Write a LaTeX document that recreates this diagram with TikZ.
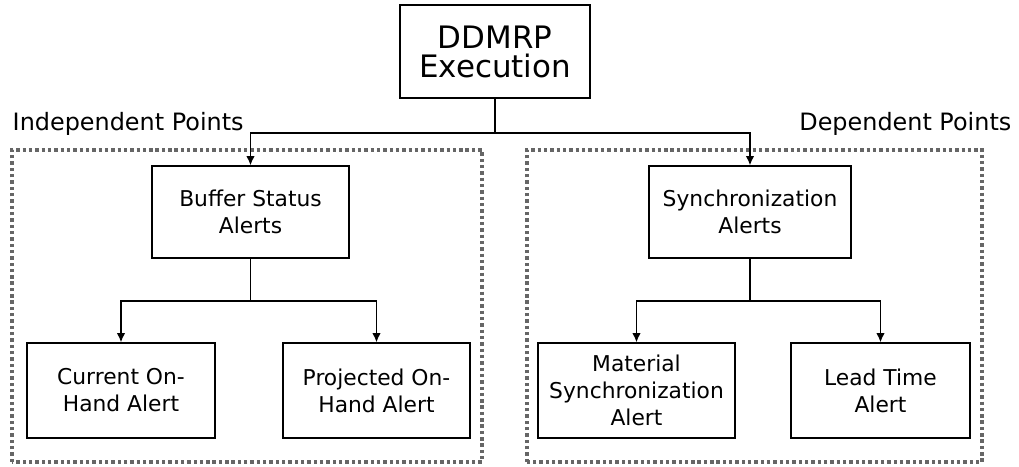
\documentclass[tikz,border=0pt]{standalone}
\usepackage{fontspec}
\setmainfont{DejaVu Sans}
\usepackage{tikz}
\usetikzlibrary{arrows.meta}

\begin{document}
\begin{tikzpicture}[line width = 1pt,
                        box/.style = {rectangle, draw, align = center, inner sep = 2pt,
                                      font = \fontsize{15.5}{19.2}\selectfont},
                        zone/.style = {draw = black!60, line width = 2.4pt, dash pattern = on 2.4pt off 2.1pt},
                        arr/.style = {-{Latex[length = 6.5pt, width = 6pt]}},
                        lbl/.style = {anchor = base, inner sep = 0pt, font = \fontsize{17}{20}\selectfont}]
      \useasboundingbox (0, 0) rectangle (25.475, 11.675);
      \draw [zone] (0.3, 0.125) rectangle (12.05, 7.925);
      \draw [zone] (13.175, 0.125) rectangle (24.55, 7.925);
      \node [lbl, anchor = base west] (indep) at (0.3, 8.41){Independent Points};
      \node [lbl, anchor = base east] (dep) at (25.3, 8.41){Dependent Points};
      \node [box, minimum width = 4.75cm, minimum height = 2.325cm,
             font = \fontsize{22}{20.6}\selectfont] (exec) at (12.375, 10.3875){DDMRP\\Execution};
      \node [box, minimum width = 4.925cm, minimum height = 2.3cm] (buf) at (6.2625, 6.375){Buffer Status\\Alerts};
      \node [box, minimum width = 5.05cm, minimum height = 2.3cm] (sync) at (18.75, 6.375){Synchronization\\Alerts};
      \node [box, minimum width = 4.7cm, minimum height = 2.375cm] (cur) at (3.025, 1.9125){Current On-\\Hand Alert};
      \node [box, minimum width = 4.675cm, minimum height = 2.375cm] (proj) at (9.4125, 1.9125){Projected On-\\Hand Alert};
      \node [box, minimum width = 4.925cm, minimum height = 2.375cm] (mat) at (15.9125, 1.9125){Material\\Synchronization\\Alert};
      \node [box, minimum width = 4.475cm, minimum height = 2.375cm] (lead) at (22.0125, 1.9125){Lead Time\\Alert};
      \coordinate (s1) at (12.375, 8.35);
      \coordinate (s2) at (6.2625, 4.15);
      \coordinate (s3) at (18.75, 4.15);
      \draw (exec) -- (s1);
      \draw [arr] (s1) -| (buf);
      \draw [arr] (s1) -| (sync);
      \draw (buf) -- (s2);
      \draw [arr] (s2) -| (cur);
      \draw [arr] (s2) -| (proj);
      \draw (sync) -- (s3);
      \draw [arr] (s3) -| (mat);
      \draw [arr] (s3) -| (lead);
    \end{tikzpicture}
\end{document}
